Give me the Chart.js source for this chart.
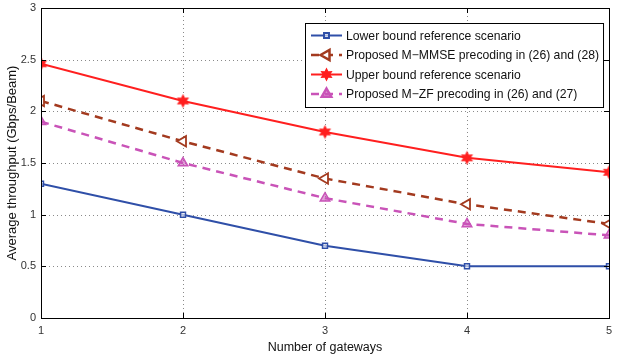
<!DOCTYPE html>
<html>
<head>
<meta charset="utf-8">
<script src="https://cdn.jsdelivr.net/npm/chart.js@4"></script>
<style>
  html, body { margin: 0; padding: 0; background: #fff; }
  #wrap { width: 617px; height: 360px; position: relative; }
</style>
</head>
<body>
<div id="wrap"><canvas id="tput"></canvas></div>
<script>
const gateways = [1, 2, 3, 4, 5];
const lowerBound = [1.3, 1.0, 0.7, 0.5, 0.5];
const mmse = [2.1, 1.71, 1.35, 1.1, 0.91];
const upperBound = [2.46, 2.1, 1.8, 1.55, 1.41];
const zf = [1.9, 1.5, 1.16, 0.91, 0.8];
const yTicks = [0, 0.5, 1, 1.5, 2, 2.5, 3];

const FONT = "'Liberation Sans', Arial, sans-serif";

// six point star marker (matlab hexagram)
function hexagram(color) {
    const c = document.createElement('canvas');
    c.width = 15; c.height = 15;
    const g = c.getContext('2d');
    g.beginPath();
    for (let i = 0; i < 12; i++) {
        const r = i % 2 === 0 ? 7 : 3.8;
        const a = -Math.PI / 2 + i * Math.PI / 6;
        const px = 7.5 + r * Math.cos(a), py = 7.5 + r * Math.sin(a);
        if (i === 0) g.moveTo(px, py); else g.lineTo(px, py);
    }
    g.closePath();
    g.fillStyle = color;
    g.fill();
    return c;
}

const pts = arr => gateways.map((g, i) => ({ x: g, y: arr[i] }));

// legend drawn inside the plot, top right, like matlab
const boxLegend = {
    id: 'boxLegend',
    afterDraw(chart) {
        const { ctx, chartArea } = chart;
        ctx.save();
        ctx.font = '12.2px ' + FONT;
        const widths = chart.data.datasets.map(d => ctx.measureText(d.label).width);
        const w = 41 + Math.max(...widths) + 4;
        const h = 84;
        const x0 = Math.round(chartArea.right - 6 - w);
        const y0 = Math.round(chartArea.top + 15);
        ctx.fillStyle = '#fff';
        ctx.fillRect(x0, y0, w, h);
        ctx.strokeStyle = '#000';
        ctx.lineWidth = 1;
        ctx.strokeRect(x0 + 0.5, y0 + 0.5, w, h);
        chart.data.datasets.forEach((d, i) => {
            const cy = y0 + 12.5 + i * 19.5;
            ctx.strokeStyle = d.borderColor;
            ctx.lineWidth = d.borderWidth;
            ctx.setLineDash(d.borderDash || []);
            ctx.beginPath();
            ctx.moveTo(x0 + 6, cy);
            ctx.lineTo(x0 + 37, cy);
            ctx.stroke();
            ctx.setLineDash([]);
            ctx.strokeStyle = d.pointBorderColor;
            ctx.fillStyle = d.pointBackgroundColor;
            Chart.helpers.drawPoint(ctx, {
                pointStyle: d.pointStyle,
                radius: d.pointRadius,
                rotation: d.pointRotation || 0,
                borderWidth: d.pointBorderWidth || 1.5
            }, x0 + 21.5, cy);
            ctx.fillStyle = '#111';
            ctx.textBaseline = 'middle';
            ctx.fillText(d.label, x0 + 41, cy + 1);
        });
        ctx.restore();
    }
};

// dotted grid, box around the axes, inward ticks
const axesBox = {
    id: 'axesBox',
    beforeDatasetsDraw(chart) {
        const { ctx, chartArea: a, scales } = chart;
        ctx.save();
        ctx.strokeStyle = '#8a8a8a';
        ctx.lineWidth = 1;
        ctx.setLineDash([1, 3]);
        ctx.beginPath();
        yTicks.forEach(v => {
            const py = Math.round(scales.y.getPixelForValue(v)) + 0.5;
            ctx.moveTo(a.left, py); ctx.lineTo(a.right, py);
        });
        gateways.forEach(v => {
            const px = Math.round(scales.x.getPixelForValue(v)) + 0.5;
            ctx.moveTo(px, a.top); ctx.lineTo(px, a.bottom);
        });
        ctx.stroke();
        ctx.restore();
    },
    afterDatasetsDraw(chart) {
        const { ctx, chartArea: a, scales } = chart;
        ctx.save();
        ctx.strokeStyle = '#000';
        ctx.lineWidth = 1;
        ctx.strokeRect(Math.round(a.left) + 0.5, Math.round(a.top) + 0.5,
            Math.round(a.right - a.left), Math.round(a.bottom - a.top));
        ctx.beginPath();
        yTicks.forEach(v => {
            const py = Math.round(scales.y.getPixelForValue(v)) + 0.5;
            ctx.moveTo(a.left, py); ctx.lineTo(a.left + 5, py);
            ctx.moveTo(a.right, py); ctx.lineTo(a.right - 5, py);
        });
        gateways.forEach(v => {
            const px = Math.round(scales.x.getPixelForValue(v)) + 0.5;
            ctx.moveTo(px, a.bottom); ctx.lineTo(px, a.bottom - 5);
            ctx.moveTo(px, a.top); ctx.lineTo(px, a.top + 5);
        });
        ctx.stroke();
        ctx.restore();
    }
};

const ctx = document.getElementById('tput').getContext('2d');
const tputChart = new Chart(ctx, {
    type: 'line',
    data: {
        datasets: [{
            label: 'Lower bound reference scenario',
            data: pts(lowerBound),
            borderColor: '#2f4fa8',
            borderWidth: 2,
            pointStyle: 'rect',
            pointRadius: 3.5,
            pointBackgroundColor: 'rgba(255,255,255,0.6)',
            pointBorderColor: '#2f4fa8',
            pointBorderWidth: 1.5
        }, {
            label: 'Proposed M\u2212MMSE precoding in (26) and (28)',
            data: pts(mmse),
            borderColor: '#a33a1f',
            borderWidth: 2.5,
            borderDash: [8, 6],
            pointStyle: 'triangle',
            pointRotation: -90,
            pointRadius: 6,
            pointBackgroundColor: '#fff',
            pointBorderColor: '#a33a1f',
            pointBorderWidth: 1.8
        }, {
            label: 'Upper bound reference scenario',
            data: pts(upperBound),
            borderColor: '#ff1f1f',
            borderWidth: 2,
            pointStyle: hexagram('#ff1f1f'),
            pointRadius: 6,
            pointBackgroundColor: '#ff1f1f',
            pointBorderColor: '#ff1f1f'
        }, {
            label: 'Proposed M\u2212ZF precoding in (26) and (27)',
            data: pts(zf),
            borderColor: '#c953b8',
            borderWidth: 2.5,
            borderDash: [8, 6],
            pointStyle: 'triangle',
            pointRadius: 5.5,
            pointBackgroundColor: 'rgba(201,83,184,0.55)',
            pointBorderColor: '#c953b8',
            pointBorderWidth: 1.5
        }]
    },
    options: {
        responsive: true,
        maintainAspectRatio: false,
        animation: false,
        layout: { padding: { top: 7, right: 4, left: 0, bottom: 0 } },
        plugins: {
            legend: { display: false },
            tooltip: { enabled: false }
        },
        scales: {
            x: {
                type: 'linear',
                min: 1,
                max: 5,
                grid: { display: false, drawTicks: false },
                border: { display: false },
                afterFit: s => { s.height = 42; s.paddingLeft = 0; s.paddingRight = 0; },
                ticks: {
                    stepSize: 1,
                    padding: 6,
                    color: '#333',
                    font: { family: FONT, size: 11 }
                },
                title: {
                    display: true,
                    text: 'Number of gateways',
                    color: '#111',
                    padding: { top: 0, bottom: 5 },
                    font: { family: FONT, size: 12.5 }
                }
            },
            y: {
                min: 0,
                max: 3,
                afterBuildTicks: axis => { axis.ticks = yTicks.map(v => ({ value: v })); },
                afterFit: s => { s.width = 41; s.paddingTop = 0; s.paddingBottom = 0; },
                grid: { display: false, drawTicks: false },
                border: { display: false },
                ticks: {
                    padding: 5,
                    color: '#333',
                    font: { family: FONT, size: 11 },
                    callback: v => String(v)
                },
                title: {
                    display: true,
                    text: 'Average throughput (Gbps/Beam)',
                    color: '#111',
                    padding: { top: 5, bottom: 0 },
                    font: { family: FONT, size: 13 }
                }
            }
        }
    },
    plugins: [axesBox, boxLegend]
});
</script>
</body>
</html>
